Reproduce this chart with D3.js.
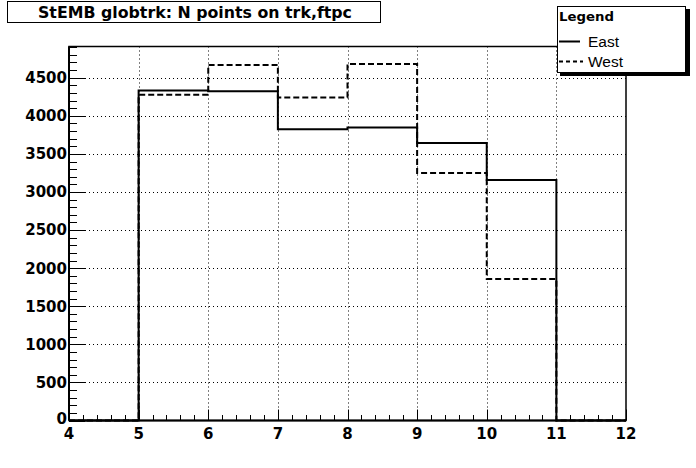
<!DOCTYPE html>
<html>
<head>
<meta charset="utf-8">
<script src="https://cdn.jsdelivr.net/npm/d3@7"></script>
<style>
  body { margin: 0; background: #fff; }
  svg { display: block; }
</style>
</head>
<body>
<svg width="696" height="468"></svg>
<script>
// histogram bins (lower edges) and contents
const binEdges = [4, 5, 6, 7, 8, 9, 10, 11, 12];
const eastCounts = [0, 4334, 4321, 3822, 3848, 3643, 3158, 0];
const westCounts = [0, 4277, 4666, 4242, 4679, 3249, 1859, 0];
const xTicks = [4, 5, 6, 7, 8, 9, 10, 11, 12];
const yTicks = [0, 500, 1000, 1500, 2000, 2500, 3000, 3500, 4000, 4500];
const titleText = "StEMB globtrk: N points on trk,ftpc";
const legendNames = ["East", "West"];

const svg = d3.select("svg");

// frame
const fLeft = 69, fRight = 626, fTop = 46.5, fBottom = 420.5;

const x = d3.scaleLinear().domain([4, 12]).range([fLeft, fRight]);
const y = d3.scaleLinear().domain([0, 4910]).range([fBottom, fTop]);

svg.append("rect")
    .attr("width", 696).attr("height", 468).attr("fill", "#fff");

// grid
const grid = svg.append("g")
    .attr("stroke", "#000")
    .attr("stroke-width", 1)
    .attr("stroke-dasharray", "1,3");
grid.selectAll("line.gx")
    .data(xTicks.slice(1, -1))
    .join("line")
    .attr("x1", d => Math.round(x(d)) + 0.5)
    .attr("x2", d => Math.round(x(d)) + 0.5)
    .attr("y1", fTop)
    .attr("y2", fBottom);
grid.selectAll("line.gy")
    .data(yTicks.slice(1))
    .join("line")
    .attr("x1", fLeft)
    .attr("x2", fRight)
    .attr("y1", d => Math.round(y(d)) + 0.5)
    .attr("y2", d => Math.round(y(d)) + 0.5);

// frame box
svg.append("rect")
    .attr("x", fLeft).attr("y", fTop)
    .attr("width", fRight - fLeft).attr("height", fBottom - fTop)
    .attr("fill", "none").attr("stroke", "#000").attr("stroke-width", 1.5);

// minor + major ticks, y axis
const yMinor = d3.range(0, 4901, 100);
svg.append("g").selectAll("line")
    .data(yMinor)
    .join("line")
    .attr("x1", fLeft)
    .attr("x2", d => fLeft + (d % 500 === 0 ? 16 : 8))
    .attr("y1", d => Math.round(y(d)) + 0.5)
    .attr("y2", d => Math.round(y(d)) + 0.5)
    .attr("stroke", "#000").attr("stroke-width", 1);

// ticks, x axis
const xMinor = d3.range(40, 121, 2).map(d => d / 10);
svg.append("g").selectAll("line")
    .data(xMinor)
    .join("line")
    .attr("x1", d => Math.round(x(d)) + 0.5)
    .attr("x2", d => Math.round(x(d)) + 0.5)
    .attr("y1", fBottom)
    .attr("y2", d => fBottom - (Number.isInteger(d) ? 11 : 5.5))
    .attr("stroke", "#000").attr("stroke-width", 1);

// histograms
const stepLine = d3.line()
    .x(d => x(d[0]))
    .y(d => y(d[1]))
    .curve(d3.curveStepAfter);
function points(counts) {
    const p = counts.map((c, i) => [binEdges[i], c]);
    p.push([binEdges[binEdges.length - 1], counts[counts.length - 1]]);
    return p;
}
svg.append("path")
    .attr("d", stepLine(points(westCounts)))
    .attr("fill", "none").attr("stroke", "#000")
    .attr("stroke-width", 2).attr("stroke-dasharray", "6,3");
svg.append("path")
    .attr("d", stepLine(points(eastCounts)))
    .attr("fill", "none").attr("stroke", "#000")
    .attr("stroke-width", 2);

// axis lines
svg.append("line")
    .attr("x1", fLeft).attr("x2", fRight).attr("y1", fBottom).attr("y2", fBottom)
    .attr("stroke", "#000").attr("stroke-width", 2);
svg.append("line")
    .attr("x1", fLeft).attr("x2", fLeft).attr("y1", fTop).attr("y2", fBottom)
    .attr("stroke", "#000").attr("stroke-width", 2);

// tick labels
svg.append("g").selectAll("text")
    .data(yTicks)
    .join("text")
    .attr("x", fLeft - 2)
    .attr("y", d => y(d) - (d === 0 ? 2 : 0))
    .attr("dy", "0.36em")
    .attr("text-anchor", "end")
    .style("font-family", "DejaVu Sans")
    .style("font-weight", "bold")
    .style("font-size", "15px")
    .text(d => d);

svg.append("g").selectAll("text")
    .data(xTicks)
    .join("text")
    .attr("x", d => x(d))
    .attr("y", 439)
    .attr("text-anchor", "middle")
    .style("font-family", "DejaVu Sans")
    .style("font-weight", "bold")
    .style("font-size", "15px")
    .text(d => d);

// title box
svg.append("rect")
    .attr("x", 7.5).attr("y", 1.5).attr("width", 373).attr("height", 21)
    .attr("fill", "#fff").attr("stroke", "#000").attr("stroke-width", 1);
svg.append("text")
    .attr("x", 195).attr("y", 17.5)
    .attr("text-anchor", "middle")
    .attr("textLength", 314)
    .attr("lengthAdjust", "spacingAndGlyphs")
    .style("font-family", "DejaVu Sans")
    .style("font-weight", "bold")
    .style("font-size", "15px")
    .text(titleText);

// legend
const lg = svg.append("g");
lg.append("rect")
    .attr("x", 560).attr("y", 9).attr("width", 130).attr("height", 67)
    .attr("fill", "#000");
lg.append("rect")
    .attr("x", 557.5).attr("y", 6.5).attr("width", 128).attr("height", 66)
    .attr("fill", "#fff").attr("stroke", "#000").attr("stroke-width", 1);
lg.append("text")
    .attr("x", 559).attr("y", 21)
    .attr("textLength", 55)
    .attr("lengthAdjust", "spacingAndGlyphs")
    .style("font-family", "DejaVu Sans")
    .style("font-weight", "bold")
    .style("font-size", "13px")
    .text("Legend");
lg.selectAll("line.key")
    .data(legendNames)
    .join("line")
    .attr("x1", 559).attr("x2", d => d === "East" ? 580 : 583)
    .attr("y1", (d, i) => 41.5 + i * 20)
    .attr("y2", (d, i) => 41.5 + i * 20)
    .attr("stroke", "#000").attr("stroke-width", 2)
    .attr("stroke-dasharray", d => d === "East" ? null : "4,3");
lg.selectAll("text.name")
    .data(legendNames)
    .join("text")
    .attr("x", 588)
    .attr("y", (d, i) => 46.5 + i * 20)
    .style("font-family", "Liberation Sans")
    .style("font-size", "15.5px")
    .text(d => d);
</script>
</body>
</html>
